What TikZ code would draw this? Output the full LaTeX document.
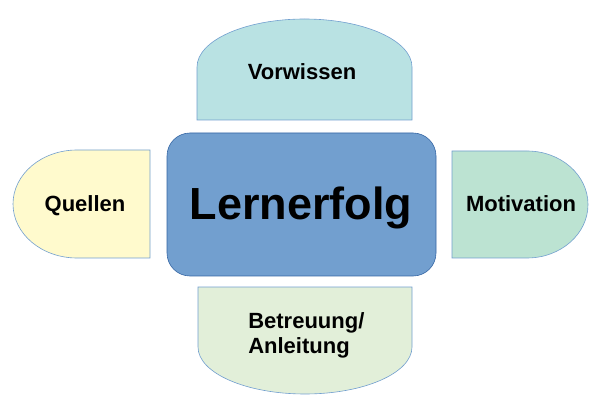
\documentclass[tikz,border=0pt]{standalone}
\usepackage{fontspec}
\setmainfont{Liberation Sans}
\usepackage{tikz}

\definecolor{kernblau}{HTML}{729FCF}
\definecolor{kernrand}{HTML}{3465A4}
\definecolor{vorwissenfarbe}{HTML}{B9E2E3}
\definecolor{quellenfarbe}{HTML}{FFFACD}
\definecolor{motivationfarbe}{HTML}{BCE3D2}
\definecolor{betreuungfarbe}{HTML}{E2EFD9}

\begin{document}
\begin{tikzpicture}[
                            x=1pt,
                            y=1pt,
                            line width=0.6pt,
                            teil/.style={draw=kernblau},
                            schrift/.style={font=\fontsize{22}{25}\selectfont\bfseries,anchor=base}
                        ]

                        \tikzstyle{kern}=[draw=kernrand,fill=kernblau,rounded corners=23pt]

                        \useasboundingbox (0,0) rectangle (599,407);

                        \filldraw[teil,fill=vorwissenfarbe]
                            (197,287) -- (197,340)
                            arc[start angle=180,end angle=0,x radius=107.5,y radius=48]
                            -- (412,287) -- cycle;
                        \filldraw[teil,fill=betreuungfarbe]
                            (198,120) -- (198,60)
                            arc[start angle=180,end angle=360,x radius=107,y radius=47]
                            -- (412,120) -- cycle;
                        \filldraw[teil,fill=quellenfarbe]
                            (150,257) -- (77,257)
                            arc[start angle=90,end angle=270,x radius=64,y radius=54]
                            -- (150,149) -- cycle;
                        \filldraw[teil,fill=motivationfarbe]
                            (452,256) -- (527,256)
                            arc[start angle=90,end angle=-90,x radius=61,y radius=53.5]
                            -- (452,149) -- cycle;
                        \filldraw[kern] (167,131) rectangle (436,274);

                        \node[schrift]   (vorwissen)  at (302,327) {Vorwissen};
                        \node[schrift]   (quellen)    at (85,195)  {Quellen};
                        \node[schrift]   (motivation) at (521,195) {Motivation};
                        \node[schrift,anchor=base west,align=left,inner sep=0pt]
                                         (betreuung)  at (248,54)  {Betreuung/\\Anleitung};
                        \node[font=\fontsize{45}{50}\selectfont\bfseries,anchor=base]
                                         (lernerfolg) at (301,187) {Lernerfolg};
                    \end{tikzpicture}
\end{document}
